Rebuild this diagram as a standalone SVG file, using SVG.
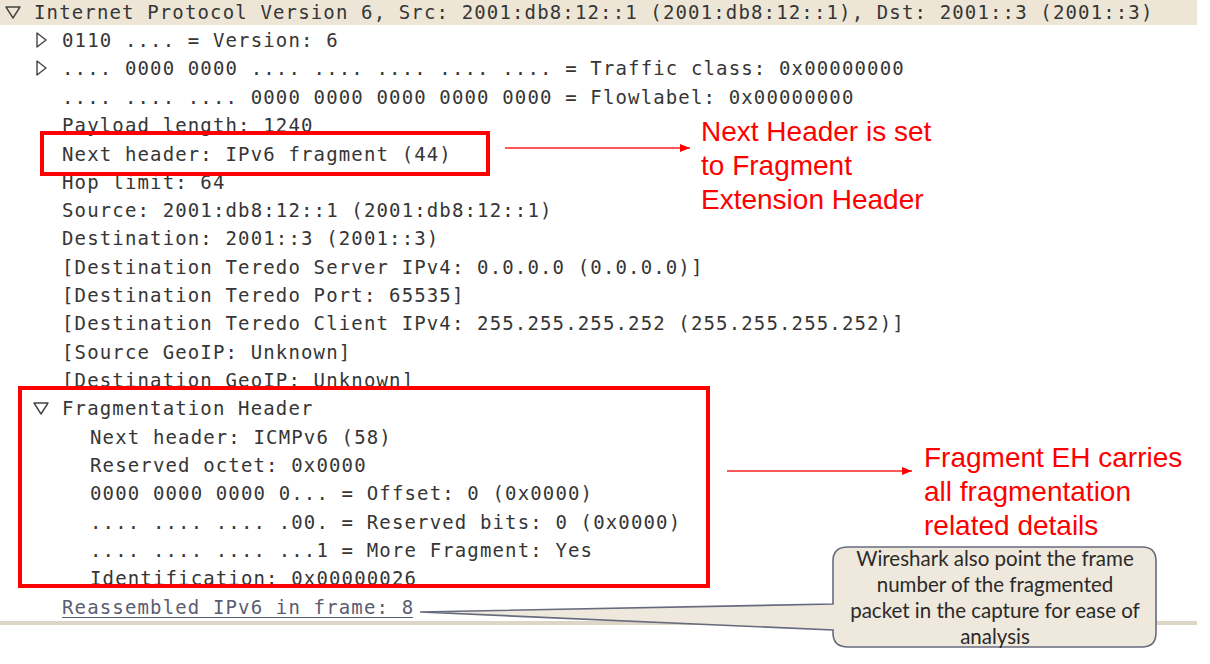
<svg xmlns="http://www.w3.org/2000/svg" width="1210" height="664" viewBox="0 0 1210 664">
<defs>
<style>
.m{font-family:"DejaVu Sans Mono","Liberation Mono",monospace;font-size:19px;letter-spacing:1.14px;fill:#363636}
.lk{fill:#5a5d72}
.red{font-family:"Liberation Sans",Arial,sans-serif;font-size:28px;fill:#ff0000}
.box{fill:none;stroke:#ff0000;stroke-width:4}
.con{stroke:#ff2020;stroke-width:1.3;fill:none}
.tri{fill:none;stroke:#444;stroke-width:1.4;stroke-linejoin:round}
.ct{font-family:Lato,"Open Sans","Liberation Sans",sans-serif;font-size:20.5px;fill:#2a2a2a;text-anchor:middle}
</style>
<marker id="ah" viewBox="0 0 10 8" refX="10" refY="4" markerWidth="10" markerHeight="8" markerUnits="userSpaceOnUse" orient="auto">
<path d="M0,0 L10,4 L0,8 z" fill="#ff0000"/>
</marker>
</defs>
<rect width="1210" height="664" fill="#ffffff"/>
<rect x="0" y="0" width="1197" height="25" fill="#ede6d6"/>
<rect x="0" y="621" width="1197" height="4" fill="#ddd5c6"/>
<g id="tree">
<polygon class="tri" points="6,7 20,7 13,18"/>
<polygon class="tri" points="37,33 46,40 37,47"/>
<polygon class="tri" points="37,61 46,68 37,75"/>
<polygon class="tri" points="34,403 48,403 41,414"/>
<text class="m" x="34" y="19">Internet Protocol Version 6, Src: 2001:db8:12::1 (2001:db8:12::1), Dst: 2001::3 (2001::3)</text>
<text class="m" x="62" y="47">0110 .... = Version: 6</text>
<text class="m" x="62" y="75">.... 0000 0000 .... .... .... .... .... = Traffic class: 0x00000000</text>
<text class="m" x="62" y="104">.... .... .... 0000 0000 0000 0000 0000 = Flowlabel: 0x00000000</text>
<text class="m" x="62" y="132">Payload length: 1240</text>
<text class="m" x="62" y="161">Next header: IPv6 fragment (44)</text>
<text class="m" x="62" y="189">Hop limit: 64</text>
<text class="m" x="62" y="217">Source: 2001:db8:12::1 (2001:db8:12::1)</text>
<text class="m" x="62" y="245">Destination: 2001::3 (2001::3)</text>
<text class="m" x="62" y="274">[Destination Teredo Server IPv4: 0.0.0.0 (0.0.0.0)]</text>
<text class="m" x="62" y="302">[Destination Teredo Port: 65535]</text>
<text class="m" x="62" y="330">[Destination Teredo Client IPv4: 255.255.255.252 (255.255.255.252)]</text>
<text class="m" x="62" y="359">[Source GeoIP: Unknown]</text>
<text class="m" x="62" y="387">[Destination GeoIP: Unknown]</text>
<text class="m" x="62" y="415">Fragmentation Header</text>
<text class="m" x="90" y="444">Next header: ICMPv6 (58)</text>
<text class="m" x="90" y="472">Reserved octet: 0x0000</text>
<text class="m" x="90" y="500">0000 0000 0000 0... = Offset: 0 (0x0000)</text>
<text class="m" x="90" y="529">.... .... .... .00. = Reserved bits: 0 (0x0000)</text>
<text class="m" x="90" y="557">.... .... .... ...1 = More Fragment: Yes</text>
<text class="m" x="90" y="585">Identification: 0x00000026</text>
<text class="m lk" x="62" y="614">Reassembled IPv6 in frame: 8</text>
<line x1="62" y1="617.5" x2="413" y2="617.5" stroke="#5a5d72" stroke-width="1.2"/>
</g>
<g id="box-next-header">
<rect class="box" x="42" y="133" width="446" height="41"/>
</g>
<g id="box-fragment-header">
<rect class="box" x="20" y="388" width="688" height="198"/>
</g>
<g id="connectors">
<line class="con" x1="505" y1="148" x2="690" y2="148" marker-end="url(#ah)"/>
<line class="con" x1="727" y1="471" x2="912" y2="471" marker-end="url(#ah)"/>
</g>
<g id="note-next-header">
<text class="red" x="701" y="141">Next Header is set</text>
<text class="red" x="701" y="175">to Fragment</text>
<text class="red" x="701" y="209">Extension Header</text>
</g>
<g id="note-fragment-eh">
<text class="red" x="924" y="467">Fragment EH carries</text>
<text class="red" x="924" y="501">all fragmentation</text>
<text class="red" x="924" y="535">related details</text>
</g>
<g id="callout">
<path d="M848,547 H1142 Q1156,547 1156,561 V633 Q1156,647 1142,647 H848 Q833,647 833,633 V630 L420,612 L833,604 V561 Q833,547 848,547 Z" fill="#efe8dc" stroke="#676b7e" stroke-width="1.6"/>
<text class="ct" x="995" y="566">Wireshark also point the frame</text>
<text class="ct" x="995" y="592">number of the fragmented</text>
<text class="ct" x="995" y="618">packet in the capture for ease of</text>
<text class="ct" x="995" y="644">analysis</text>
</g>
</svg>
